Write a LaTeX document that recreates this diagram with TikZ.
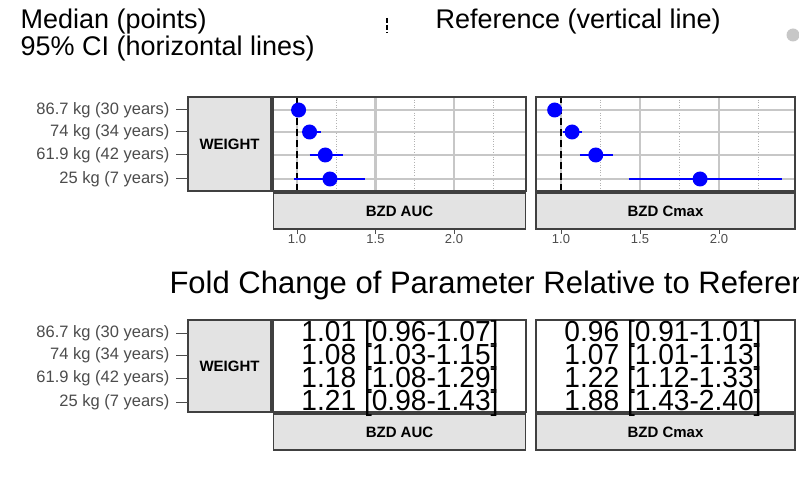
\documentclass[tikz,border=0pt]{standalone}
\usepackage{fontspec}
\setmainfont{Liberation Sans}
\begin{document}
\begin{tikzpicture}[x=1pt,y=-1pt,
  panel/.style={draw=black!75,line width=1.3pt},
  strip/.style={draw=black!75,fill=black!11,line width=1.3pt},
  major/.style={draw=black!22,line width=2.2pt},
  minor/.style={draw=black!30,line width=0.6pt,dotted},
  refl/.style={line width=2pt,dash pattern=on 7pt off 4pt},
  ci/.style={blue,line width=2.6pt},
  pt/.style={circle,fill=blue,inner sep=0pt,minimum size=15pt},
  ylab/.style={anchor=east,font=\fontsize{16.5}{16.5}\selectfont,text=black!70},
  xlab/.style={anchor=north,font=\fontsize{13}{13}\selectfont,text=black!70},
  stxt/.style={font=\fontsize{15}{15}\bfseries\selectfont},
  big/.style={font=\fontsize{27}{27}\selectfont,anchor=west},
  tab/.style={font=\fontsize{29}{29}\selectfont,anchor=base}]
\useasboundingbox (0,0) rectangle (799,494);
\fill[white] (0,0) rectangle (799,494);
% legend
\node[big] (l1) at (17,22) {Median (points)};
\node[big] (l2) at (17,49) {95\% CI (horizontal lines)};
\coordinate (ra) at (387,18); \coordinate (rb) at (387,33);
\draw[line width=2.4pt,dash pattern=on 5pt off 2pt] (ra) -- (rb);
\node[big] (l3) at (432,22) {Reference (vertical line)};
\node[circle,fill=black!22,minimum size=13pt,inner sep=0pt] (lc) at (793,35) {};
% ===== top panels =====
\foreach \xo/\xl/\xr/\u in {297/273/526/157, 561/536/795/158}{
  \begin{scope}
  \clip (\xl,97) rectangle (\xr,191);
  \foreach \m in {0.25,0.75,1.25} \draw[minor] ({\xo+\m*\u},97) -- ({\xo+\m*\u},191);
  \foreach \m in {0,0.5,1} \draw[major] ({\xo+\m*\u},97) -- ({\xo+\m*\u},191);
  \foreach \y in {110,132,155,179} \draw[major] (\xl,\y) -- (\xr,\y);
  \end{scope}
  \draw[refl] (\xo,191) -- (\xo,97);
  \foreach \m/\lab in {0/1.0,0.5/1.5,1/2.0}{
    \draw[black!70,line width=1pt] ({\xo+\m*\u},191) -- ({\xo+\m*\u},234);
    \node[xlab] at ({\xo+\m*\u},231) {\lab};}
}
% strips over tick marks
\node[strip,minimum width=252pt,minimum height=36pt,inner sep=0pt,stxt] (sa) at (399.5,211) {BZD AUC};
\node[strip,minimum width=259pt,minimum height=36pt,inner sep=0pt,stxt] (sc) at (665.5,211) {BZD Cmax};
% data
\foreach \y/\m/\lo/\hi in {110/1.01/1.01/1.01,132/1.08/1.03/1.15,155/1.18/1.08/1.29,179/1.21/0.98/1.43}{
  \draw[ci] ({297+(\lo-1)*157},\y) -- ({297+(\hi-1)*157},\y);
  \node[pt] at ({297+(\m-1)*157},\y) {};}
\foreach \y/\m/\lo/\hi in {110/0.96/0.96/0.96,132/1.07/1.01/1.13,155/1.22/1.12/1.33,179/1.88/1.43/2.40}{
  \draw[ci] ({561+(\lo-1)*158},\y) -- ({561+(\hi-1)*158},\y);
  \node[pt] at ({561+(\m-1)*158},\y) {};}
\node[panel,minimum width=253pt,minimum height=94pt,inner sep=0pt] (pa) at (399.5,144) {};
\node[panel,minimum width=259pt,minimum height=94pt,inner sep=0pt] (pc) at (665.5,144) {};
\node[strip,minimum width=83pt,minimum height=94pt,inner sep=0pt,stxt] (wa) at (229.5,144) {WEIGHT};
\foreach \y/\t in {110/86.7 kg (30 years),132/74 kg (34 years),155/61.9 kg (42 years),179/25 kg (7 years)}{
  \draw[black!70,line width=1pt] (176,\y) -- (188,\y);
  \node[ylab] at (173,\y) {\t};}
% title
\node[big,font=\fontsize{31}{31}\selectfont] (tt) at (166,285) {Fold Change of Parameter Relative to Reference};
% ===== bottom =====
\node[panel,fill=white,minimum width=253pt,minimum height=92pt,inner sep=0pt] (ba) at (399.5,366) {};
\node[panel,fill=white,minimum width=259pt,minimum height=92pt,inner sep=0pt] (bc) at (665.5,366) {};
\node[strip,minimum width=252pt,minimum height=36pt,inner sep=0pt,stxt] (sa2) at (399.5,432) {BZD AUC};
\node[strip,minimum width=259pt,minimum height=36pt,inner sep=0pt,stxt] (sc2) at (665.5,432) {BZD Cmax};
\node[strip,minimum width=83pt,minimum height=92pt,inner sep=0pt,stxt] (wb) at (229.5,366) {WEIGHT};
\foreach \y/\t in {333/86.7 kg (30 years),355/74 kg (34 years),378/61.9 kg (42 years),402/25 kg (7 years)}{
  \draw[black!70,line width=1pt] (176,\y) -- (188,\y);
  \node[ylab] at (173,\y) {\t};}
\foreach \y/\a/\c in {341/{1.01 [0.96-1.07]}/{0.96 [0.91-1.01]},364/{1.08 [1.03-1.15]}/{1.07 [1.01-1.13]},387/{1.18 [1.08-1.29]}/{1.22 [1.12-1.33]},410/{1.21 [0.98-1.43]}/{1.88 [1.43-2.40]}}{
  \node[tab,xscale=0.97] at (400,\y) {\a};
  \node[tab,xscale=0.97] at (663,\y) {\c};}
\end{tikzpicture}
\end{document}
